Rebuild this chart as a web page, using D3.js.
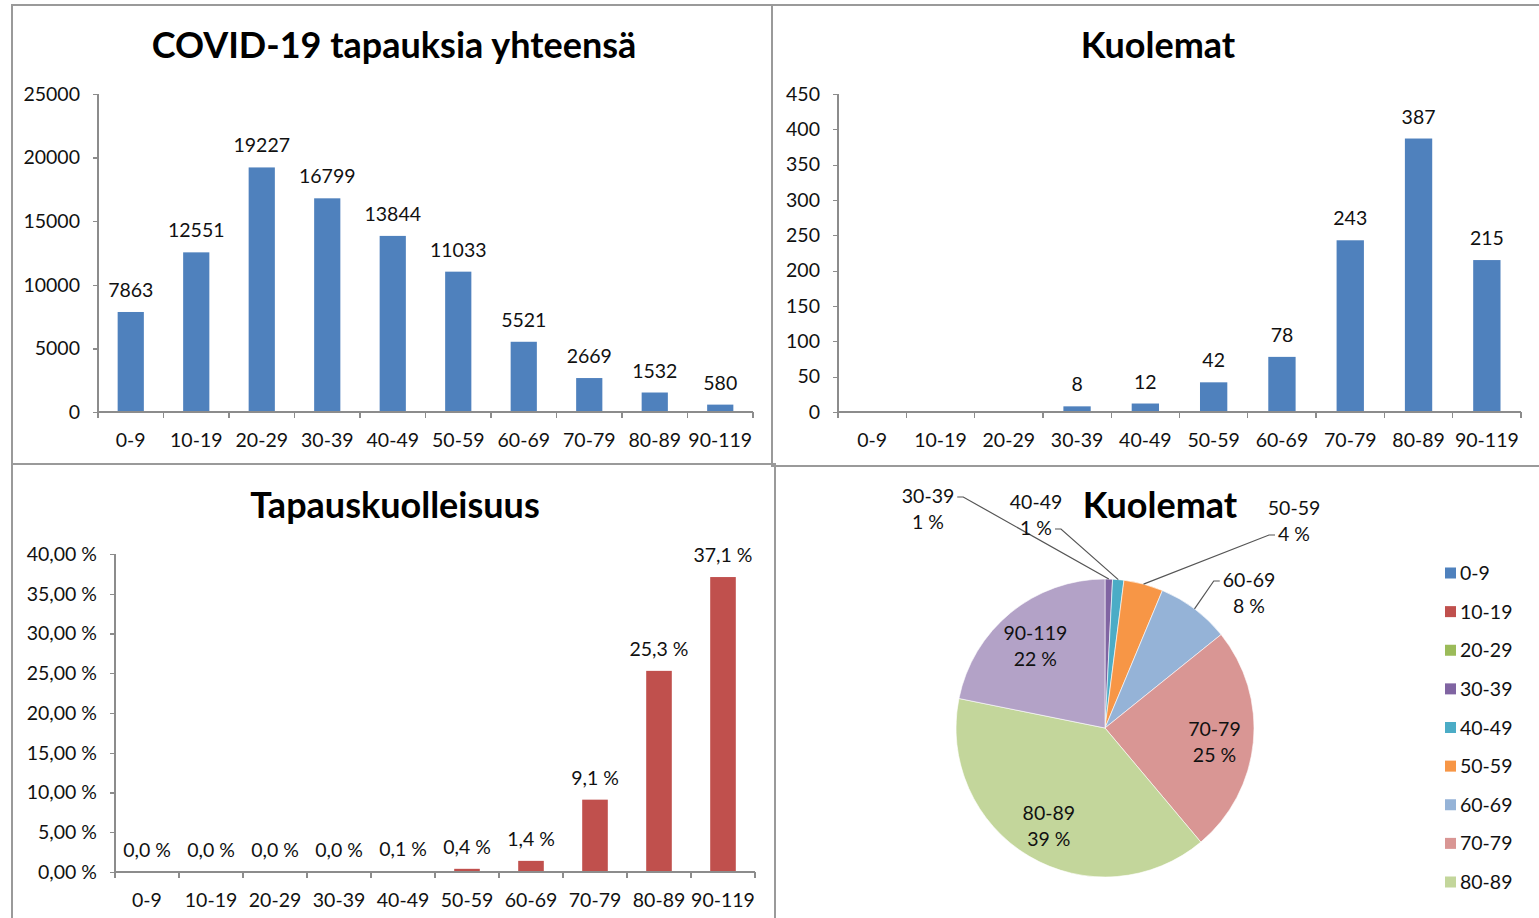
<!DOCTYPE html>
<html>
<head>
<meta charset="utf-8">
<script src="https://cdn.jsdelivr.net/npm/d3@7"></script>
<style>
  body { margin: 0; background: #fff; }
  svg { display: block; font-family: Lato, "Open Sans", sans-serif; }
  .panel { fill: none; stroke: #9a9a9a; stroke-width: 2; }
  .title { font-weight: bold; font-size: 36px; text-anchor: middle; fill: #000; }
  .axis text { font-family: Lato, sans-serif; font-size: 19.5px; fill: #111; }
  .axis line, .axis-line { stroke: #8c8c8c; stroke-width: 1.3; shape-rendering: crispEdges; }
  .value-label { font-size: 19.5px; fill: #111; text-anchor: middle; }
  .pie-label { font-size: 19.5px; fill: #111; text-anchor: middle; }
  .leader { stroke: #555; stroke-width: 1.2; fill: none; }
  .legend text { font-size: 19.5px; fill: #111; }
</style>
</head>
<body>
<svg id="chart" width="1539" height="918"></svg>
<script>
// Data
const ageGroups = ['0-9', '10-19', '20-29', '30-39', '40-49', '50-59', '60-69', '70-79', '80-89', '90-119'];
const cases = [7863, 12551, 19227, 16799, 13844, 11033, 5521, 2669, 1532, 580];
const deaths = [0, 0, 0, 8, 12, 42, 78, 243, 387, 215];
const fatalityPct = [0.0, 0.0, 0.0, 0.0, 0.1, 0.4, 1.4, 9.1, 25.3, 37.1];

const caseTicks = [0, 5000, 10000, 15000, 20000, 25000];
const deathTicks = [0, 50, 100, 150, 200, 250, 300, 350, 400, 450];
const fatalityTicks = [0, 5, 10, 15, 20, 25, 30, 35, 40];

// Excel 2007 default palette for the pie
const pieColors = ['#4f81bd', '#c0504d', '#9bbb59', '#8064a2', '#4bacc6', '#f79646',
                   '#95b3d7', '#d99694', '#c3d69b', '#b3a2c7'];
const legendGroups = ageGroups.slice(0, 9);

const comma = (v, digits) => v.toFixed(digits).replace('.', ',');

const svg = d3.select('#chart');

// panel frames
const panels = [
  {x: 12, y: 5, w: 760, h: 459},
  {x: 772, y: 5, w: 780, h: 461},
  {x: 12, y: 464, w: 763, h: 470},
  {x: 775, y: 466, w: 780, h: 470}
];
svg.selectAll('.panel')
  .data(panels)
  .join('rect')
  .attr('class', 'panel')
  .attr('x', d => d.x).attr('y', d => d.y)
  .attr('width', d => d.w).attr('height', d => d.h);

class BarChart {
  constructor(_config, _data) {
    this.config = _config;
    this.data = _data;
    this.initVis();
  }

  initVis() {
    let vis = this;
    const c = vis.config;

    vis.xScale = d3.scaleBand()
      .domain(ageGroups)
      .range([c.left, c.right])
      .paddingInner(0.6)
      .paddingOuter(0.3);

    vis.yScale = d3.scaleLinear()
      .domain([0, d3.max(c.ticks)])
      .range([c.bottom, c.top]);

    vis.yAxis = d3.axisLeft(vis.yScale)
      .tickValues(c.ticks)
      .tickSize(5)
      .tickPadding(13)
      .tickFormat(c.tickFormat);

    vis.xAxis = d3.axisBottom(vis.xScale)
      .tickSize(0)
      .tickPadding(21);

    vis.g = svg.append('g');

    vis.g.append('text')
      .attr('class', 'title')
      .attr('x', c.titleX)
      .attr('y', c.titleY)
      .text(c.title);

    vis.renderVis();
  }

  renderVis() {
    let vis = this;
    const c = vis.config;

    vis.g.selectAll('.bar')
      .data(vis.data)
      .join('rect')
      .attr('class', 'bar')
      .attr('x', (d, i) => vis.xScale(ageGroups[i]))
      .attr('width', vis.xScale.bandwidth())
      .attr('y', d => vis.yScale(d))
      .attr('height', d => c.bottom - vis.yScale(d))
      .attr('fill', c.color);

    vis.g.selectAll('.value-label')
      .data(vis.data)
      .join('text')
      .attr('class', 'value-label')
      .attr('x', (d, i) => vis.xScale(ageGroups[i]) + vis.xScale.bandwidth() / 2)
      .attr('y', d => vis.yScale(d) - 15)
      .text(c.labelFormat);

    vis.g.append('g')
      .attr('class', 'axis y-axis')
      .attr('transform', `translate(${c.left},0)`)
      .call(vis.yAxis)
      .call(g => g.select('.domain').remove());

    vis.g.append('g')
      .attr('class', 'axis x-axis')
      .attr('transform', `translate(0,${c.bottom})`)
      .call(vis.xAxis)
      .call(g => g.select('.domain').remove());

    // category boundary ticks below the baseline
    const step = vis.xScale.step();
    vis.g.selectAll('.cat-tick')
      .data(d3.range(ageGroups.length + 1))
      .join('line')
      .attr('class', 'axis-line cat-tick')
      .attr('x1', i => c.left + i * step).attr('x2', i => c.left + i * step)
      .attr('y1', c.bottom).attr('y2', c.bottom + 6);

    vis.g.append('line')
      .attr('class', 'axis-line')
      .attr('x1', c.left).attr('x2', c.right)
      .attr('y1', c.bottom).attr('y2', c.bottom);

    vis.g.append('line')
      .attr('class', 'axis-line')
      .attr('x1', c.left).attr('x2', c.left)
      .attr('y1', c.top).attr('y2', c.bottom);
  }
}

new BarChart({
  title: 'COVID-19 tapauksia yhteensä', titleX: 394, titleY: 58,
  left: 98, right: 753, top: 94, bottom: 412,
  ticks: caseTicks, tickFormat: d => d, labelFormat: d => d,
  color: '#4f81bd'
}, cases);

new BarChart({
  title: 'Kuolemat', titleX: 1158, titleY: 58,
  left: 838, right: 1521, top: 94, bottom: 412,
  ticks: deathTicks, tickFormat: d => d, labelFormat: d => (d > 0 ? d : ''),
  color: '#4f81bd'
}, deaths);

new BarChart({
  title: 'Tapauskuolleisuus', titleX: 395, titleY: 518,
  left: 115, right: 755, top: 554, bottom: 872,
  ticks: fatalityTicks, tickFormat: d => comma(d, 2) + ' %', labelFormat: d => comma(d, 1) + ' %',
  color: '#c0504d'
}, fatalityPct);

// ---- pie of deaths ----
const pieCx = 1105, pieCy = 728, pieR = 149;
const total = d3.sum(deaths);
const pieData = d3.pie().sort(null).value(d => d)(deaths);
const arc = d3.arc().innerRadius(0).outerRadius(pieR);
const pieG = svg.append('g').attr('transform', `translate(${pieCx},${pieCy})`);

svg.append('text')
  .attr('class', 'title')
  .attr('x', 1160).attr('y', 518)
  .text('Kuolemat');

pieG.selectAll('.slice')
  .data(pieData.filter(d => d.value > 0))
  .join('path')
  .attr('class', 'slice')
  .attr('d', arc)
  .attr('fill', d => pieColors[d.index])
  .attr('stroke', '#fff')
  .attr('stroke-width', 0.6);

const pctText = d => Math.round(d.value / total * 100) + ' %';

// big slices: labels inside
const inner = d3.arc().innerRadius(110).outerRadius(110);
const insideG = pieG.selectAll('.inside')
  .data(pieData.filter(d => d.value / total > 0.15))
  .join('g')
  .attr('class', 'inside')
  .attr('transform', d => `translate(${inner.centroid(d)})`);
insideG.append('text').attr('class', 'pie-label').attr('y', -3).text(d => ageGroups[d.index]);
insideG.append('text').attr('class', 'pie-label').attr('y', 23).text(pctText);

// small slices: labels outside with leader lines (offsets relative to pie centre)
const outerSpots = [
  {group: '30-39', dx: -177, dy: -219, row: 0, side: 1},
  {group: '40-49', dx: -69, dy: -213, row: 1, side: 1},
  {group: '50-59', dx: 189, dy: -207, row: 1, side: -1},
  {group: '60-69', dx: 144, dy: -135, row: 0, side: -1}
];
const rim = d3.arc().innerRadius(pieR).outerRadius(pieR);
outerSpots.forEach(s => {
  const d = pieData[ageGroups.indexOf(s.group)];
  const g = pieG.append('g').attr('transform', `translate(${s.dx},${s.dy})`);
  const lines = [s.group, pctText(d)];
  const texts = lines.map((t, i) => g.append('text')
    .attr('class', 'pie-label')
    .attr('y', i === 0 ? -6 : 20)
    .text(t));
  const w = texts[s.row].node().getComputedTextLength();
  const sx = s.dx + s.side * (w / 2 + 3);
  const sy = s.dy + (s.row === 0 ? -12 : 14);
  const [ex, ey] = rim.centroid(d);
  pieG.append('path')
    .attr('class', 'leader')
    .attr('d', `M${sx},${sy}H${sx + s.side * 6}L${ex},${ey}`);
});

// legend
const legend = svg.append('g').attr('class', 'legend');
const legendY = d3.scalePoint().domain(legendGroups).range([573, 882]);
legend.selectAll('rect')
  .data(legendGroups)
  .join('rect')
  .attr('x', 1445).attr('y', d => legendY(d) - 5.5)
  .attr('width', 11).attr('height', 11)
  .attr('fill', (d, i) => pieColors[i]);
legend.selectAll('text')
  .data(legendGroups)
  .join('text')
  .attr('x', 1460).attr('y', d => legendY(d) + 7)
  .text(d => d);
</script>
</body>
</html>
